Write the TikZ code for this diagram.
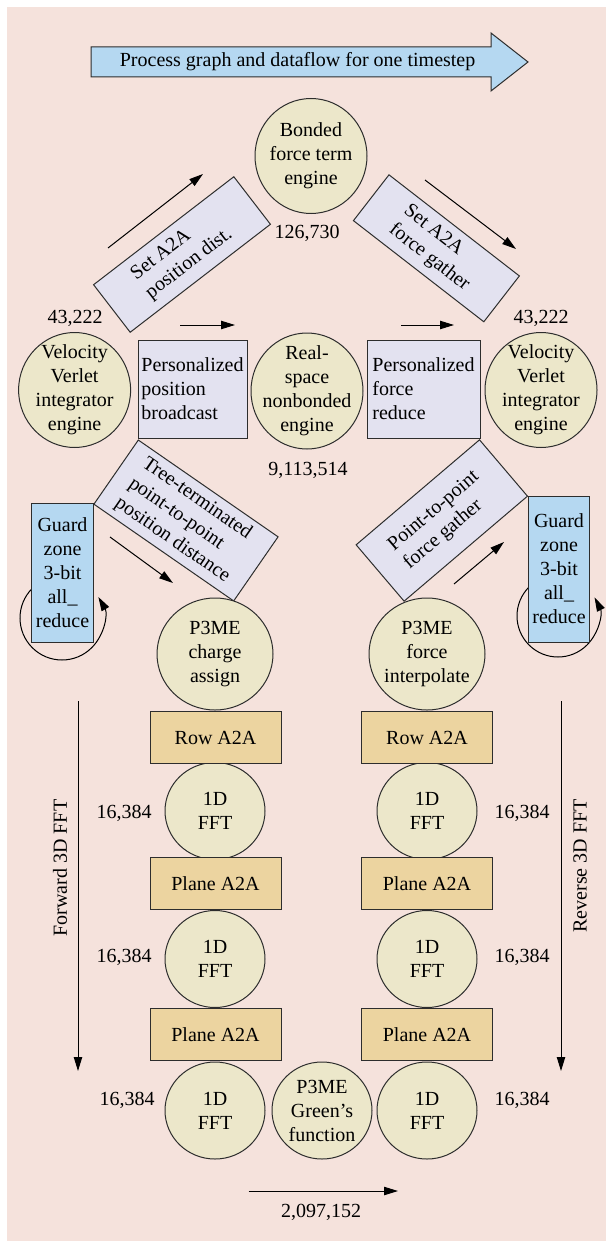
\documentclass[tikz,border=0pt]{standalone}
\usepackage{fontspec}
\setmainfont{Liberation Serif}
\usetikzlibrary{shapes.geometric,arrows.meta}
\definecolor{bgpink}{RGB}{245,226,220}
\definecolor{engfill}{RGB}{236,231,202}
\definecolor{commfill}{RGB}{227,226,240}
\definecolor{a2afill}{RGB}{236,212,160}
\definecolor{guardfill}{RGB}{181,216,241}
\definecolor{linegray}{RGB}{45,45,45}

\begin{document}
\begin{tikzpicture}[x=0.5pt, y=-0.5pt, font=\fontsize{10}{12}\selectfont
    , engine/.style={ellipse, draw=linegray, line width=0.5pt, fill=engfill, inner sep=-3pt, align=center, minimum width=56pt, minimum height=57.5pt}
    , fftnode/.style={engine, minimum width=50pt, minimum height=48.5pt}
    , comm/.style={rectangle, draw=linegray, line width=0.5pt, fill=commfill, inner sep=1pt, align=left, minimum height=49pt}
    , xfer/.style={rectangle, draw=linegray, line width=0.5pt, fill=commfill, inner sep=1pt, align=left}
    , a2a/.style={rectangle, draw=linegray, line width=0.5pt, fill=a2afill, minimum width=65.5pt, minimum height=26pt}
    , guard/.style={rectangle, draw=linegray, line width=0.5pt, fill=guardfill, inner sep=0pt, align=center, minimum width=31pt}
    , flow/.style={line width=0.5pt, -{Triangle[length=7pt, width=4.2pt]}}
    , num/.style={inner sep=0pt}
    ]
    \useasboundingbox (0,0) rectangle (606,1241);
    \fill[bgpink] (7,7) rectangle (606,1241);

    \draw[draw=linegray, fill=guardfill, line width=0.5pt] (91,47) -- (491,47) -- (491,33) -- (528,62) -- (491,91) -- (491,77) -- (91,77) -- cycle;
    \node (title) at (297.6,62) {Process graph and dataflow for one timestep};

    \node[engine] (bond) at (311,156) {Bonded\\force term\\engine};
    \node[num] (nbond) at (307,233) {126,730};
    \node[xfer, rotate=37.6, minimum width=88.5pt, minimum height=30pt] (spd) at (182,254.5) {Set A2A\\position dist.};
    \node[xfer, rotate=-37.8, minimum width=82.5pt, minimum height=29pt] (sfg) at (436.4,248.3) {Set A2A\\force gather};
    \coordinate (spd-s) at (108,248);
    \coordinate (spd-e) at (203,174);
    \coordinate (sfg-s) at (425,180);
    \coordinate (sfg-e) at (516,249);
    \draw[flow] (spd-s) -- (spd-e);
    \draw[flow] (sfg-s) -- (sfg-e);

    \node[num] (nvvl) at (75,318) {43,222};
    \node[num] (nvvr) at (541,318) {43,222};
    \node[engine] (vvl) at (74.6,390) {Velocity\\Verlet\\integrator\\engine};
    \node[comm, minimum width=54.5pt] (ppb) at (192.5,389) {Personalized\\position\\broadcast};
    \node[engine, minimum height=58pt] (real) at (307,391) {Real-\\space\\nonbonded\\engine};
    \node[comm, minimum width=56.5pt] (pfr) at (423.5,389) {Personalized\\force\\reduce};
    \node[engine] (vvr) at (541,390) {Velocity\\Verlet\\integrator\\engine};
    \node[num] (nreal) at (308,470) {9,113,514};
    \coordinate (ppb-s) at (180,325);
    \coordinate (ppb-e) at (235,325);
    \coordinate (pfr-s) at (401,325);
    \coordinate (pfr-e) at (454,325);
    \draw[flow] (ppb-s) -- (ppb-e);
    \draw[flow] (pfr-s) -- (pfr-e);

    \node[xfer, rotate=-34.7, minimum width=85pt, minimum height=39pt] (ttp) at (186,520.5) {Tree-terminated\\point-to-point\\position distance};
    \node[xfer, rotate=40.4, minimum width=81pt, minimum height=37pt] (ptp) at (441.8,520.5) {Point-to-point\\force gather};
    \coordinate (ttp-s) at (110,537);
    \coordinate (ttp-e) at (173,583);
    \coordinate (ptp-s) at (454,584);
    \coordinate (ptp-e) at (504,542);
    \draw[flow] (ttp-s) -- (ttp-e);
    \draw[flow] (ptp-s) -- (ptp-e);

    \coordinate (loopl) at (62,618);
    \coordinate (loopr) at (558,616);
    \draw[flow] (loopl) ++(-135:42) arc[start angle=-135, end angle=-390, radius=42];
    \draw[flow] (loopr) ++(-135:41) arc[start angle=-135, end angle=-387, radius=41];
    \node[guard, minimum height=69.5pt] (gzl) at (62.5,572.5) {Guard\\zone\\3-bit\\all\_\\reduce};
    \node[guard, minimum height=73pt, minimum width=30.5pt] (gzr) at (559,569) {Guard\\zone\\3-bit\\all\_\\reduce};

    \node[engine, minimum width=58pt, minimum height=56pt] (chg) at (215,654) {P3ME\\charge\\assign};
    \node[engine, minimum width=58pt, minimum height=56pt] (intp) at (427,654) {P3ME\\force\\interpolate};

    \node[fftnode] (fftf1) at (215,811) {1D\\FFT};
    \node[fftnode] (fftr1) at (427,811) {1D\\FFT};
    \node[fftnode] (fftf2) at (215,959) {1D\\FFT};
    \node[fftnode] (fftr2) at (427,959) {1D\\FFT};
    \node[fftnode] (fftf3) at (215,1110.5) {1D\\FFT};
    \node[fftnode] (green) at (322,1110.5) {P3ME\\Green's\\function};
    \node[fftnode] (fftr3) at (427,1110.5) {1D\\FFT};

    \node[a2a] (rowf) at (215.5,737.5) {Row A2A};
    \node[a2a] (rowr) at (427,737.5) {Row A2A};
    \node[a2a] (planef1) at (215.5,883.5) {Plane A2A};
    \node[a2a] (planer1) at (427,883.5) {Plane A2A};
    \node[a2a] (planef2) at (215.5,1034.5) {Plane A2A};
    \node[a2a] (planer2) at (427,1034.5) {Plane A2A};

    \node[num] (nf1) at (124,813) {16,384};
    \node[num] (nr1) at (522,813) {16,384};
    \node[num] (nf2) at (124,957) {16,384};
    \node[num] (nr2) at (522,957) {16,384};
    \node[num] (nf3) at (127,1100) {16,384};
    \node[num] (nr3) at (522,1100) {16,384};

    \coordinate (fwd-s) at (78,701);
    \coordinate (fwd-e) at (78,1071);
    \coordinate (rev-s) at (561,701);
    \coordinate (rev-e) at (561,1071);
    \draw[flow] (fwd-s) -- (fwd-e);
    \draw[flow] (rev-s) -- (rev-e);
    \node[rotate=90] (fwdlbl) at (60,868) {Forward 3D FFT};
    \node[rotate=90] (revlbl) at (580,866) {Reverse 3D FFT};

    \coordinate (grn-s) at (248.5,1191);
    \coordinate (grn-e) at (398,1191);
    \draw[flow] (grn-s) -- (grn-e);
    \node[num] (ngreen) at (321,1212) {2,097,152};
  \end{tikzpicture}
\end{document}
